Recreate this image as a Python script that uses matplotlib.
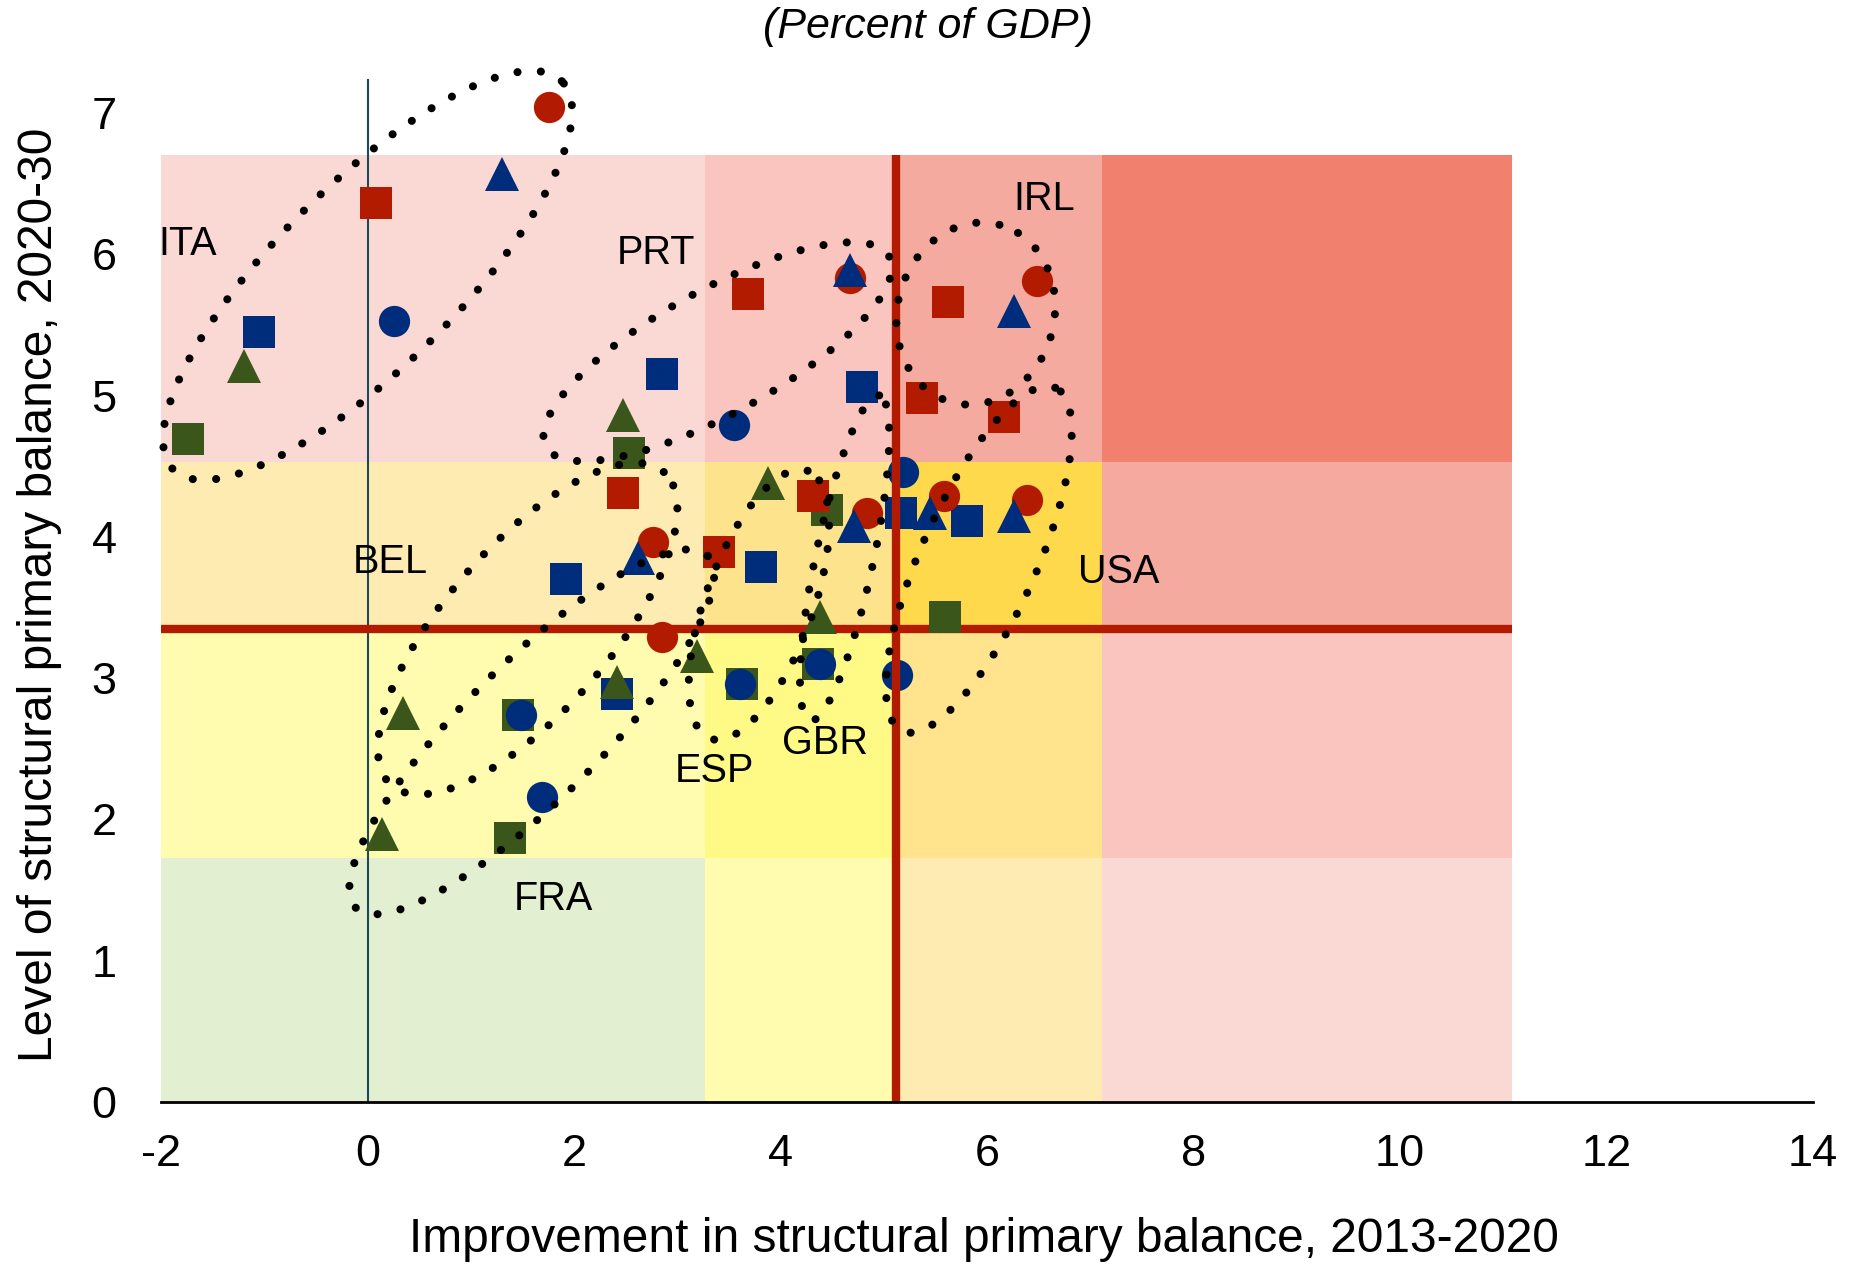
import numpy as np
import matplotlib
matplotlib.use("Agg")
import matplotlib.pyplot as plt
from matplotlib.patches import Rectangle

plt.rcParams["font.family"] = ["Liberation Sans", "DejaVu Sans"]
plt.rcParams["axes.unicode_minus"] = False

RED = "#b31b00"
BLUE = "#002d7b"
GREEN = "#3b561b"

# x = improvement in structural primary balance 2013-2020, y = level 2020-30
red_circle_x = [1.76, 4.67, 6.48, 5.58, 6.39, 4.84, 2.76, 2.85]
red_circle_y = [7.04, 5.83, 5.81, 4.29, 4.26, 4.17, 3.96, 3.29]
red_square_x = [0.08, 3.68, 5.62, 5.37, 6.16, 2.47, 4.31, 3.40]
red_square_y = [6.36, 5.72, 5.66, 4.98, 4.85, 4.31, 4.29, 3.89]
blue_circle_x = [0.26, 3.55, 5.19, 1.49, 3.61, 4.38, 5.13, 1.69]
blue_circle_y = [5.53, 4.79, 4.46, 2.74, 2.96, 3.10, 3.02, 2.16]
blue_tri_x = [1.30, 4.67, 6.26, 2.62, 4.71, 5.45, 6.26]
blue_tri_y = [6.57, 5.89, 5.60, 3.85, 4.08, 4.17, 4.15]
blue_square_x = [-1.05, 2.85, 4.79, 1.92, 3.81, 5.17, 5.81, 2.42]
blue_square_y = [5.45, 5.15, 5.06, 3.70, 3.79, 4.17, 4.11, 2.89]
green_tri_x = [-1.20, 2.47, 3.88, 4.38, 2.42, 3.19, 0.34, 0.14]
green_tri_y = [5.21, 4.86, 4.38, 3.43, 2.97, 3.16, 2.75, 1.90]
green_square_x = [-1.74, 2.53, 4.45, 5.59, 1.46, 3.63, 4.36, 1.38]
green_square_y = [4.69, 4.59, 4.19, 3.43, 2.74, 2.96, 3.10, 1.87]

countries = ["ITA", "PRT", "IRL", "BEL", "USA", "ESP", "GBR", "FRA"]
label_x = [-1.74, 2.79, 6.55, 0.22, 7.27, 3.36, 4.43, 1.80]
label_y = [6.07, 6.01, 6.39, 3.82, 3.75, 2.34, 2.54, 1.44]

# country groupings: centre x, centre y, half-length, half-width (x units), tilt
groups = {
    "ITA": (0.00, 5.85, 2.66, 0.88, 45),
    "PRT": (3.39, 5.31, 1.90, 0.60, 29),
    "IRL": (5.89, 5.58, 0.89, 0.76, 75),
    "USA": (5.92, 3.84, 1.82, 0.56, 66),
    "BEL": (1.55, 3.35, 2.01, 0.80, 49),
    "ESP": (3.79, 3.52, 1.38, 0.52, 70),
    "GBR": (4.62, 3.85, 1.61, 0.28, 78),
    "FRA": (1.59, 2.62, 2.41, 0.66, 45),
}

# risk zones
zone_x = [-2, 3.27, 5.10, 7.11, 11.08]
zone_y = [0, 1.73, 3.35, 4.53, 6.70]
zone_colors = [
    ["#e2efd1", "#fffbaf", "#feebb2", "#fad9d4"],
    ["#fffbaf", "#fffa85", "#ffe38d", "#f9c5be"],
    ["#feebb2", "#fee38d", "#ffd94c", "#f5aaa0"],
    ["#fad9d4", "#f9c5be", "#f5aaa0", "#f2806f"],
]
x_threshold = 5.12
y_threshold = 3.35

W, H = 18.6, 12.66
fig = plt.figure(figsize=(W, H), dpi=100)
ax_pos = [0.0866, 0.1295, 0.8882, 0.8371]
ax = fig.add_axes(ax_pos)
xmin, xmax, ymin, ymax = -2, 14, 0, 7.5
ax.set_xlim(xmin, xmax)
ax.set_ylim(ymin, ymax)

for i in range(4):
    for j in range(4):
        ax.add_patch(Rectangle((zone_x[j], zone_y[i]), zone_x[j + 1] - zone_x[j],
                               zone_y[i + 1] - zone_y[i], facecolor=zone_colors[i][j],
                               edgecolor="none", zorder=0.5))

ax.plot([0, 0], [0, 7.23], color="#1c4a5a", lw=1.5, zorder=1)
ax.plot([zone_x[0], zone_x[-1]], [y_threshold, y_threshold], color=RED, lw=6,
        solid_capstyle="butt", zorder=2)

ms = 22.5
series = [
    (green_square_x, green_square_y, "s", GREEN, ms),
    (red_square_x, red_square_y, "s", RED, ms),
    (blue_square_x, blue_square_y, "s", BLUE, ms),
    (red_circle_x, red_circle_y, "o", RED, ms),
    (blue_circle_x, blue_circle_y, "o", BLUE, ms),
    (green_tri_x, green_tri_y, "^", GREEN, ms + 2),
    (blue_tri_x, blue_tri_y, "^", BLUE, ms + 2),
]
for xs, ys, m, c, s in series:
    ax.plot(xs, ys, ls="none", marker=m, color=c, markersize=s,
            markeredgewidth=0, zorder=3, clip_on=False)

ax.plot([x_threshold, x_threshold], [0, zone_y[-1]], color=RED, lw=6,
        solid_capstyle="butt", zorder=4)

# dotted rings drawn in equal-pixel space
px_x = W * 100 * ax_pos[2] / (xmax - xmin)
px_y = H * 100 * ax_pos[3] / (ymax - ymin)
ky = px_y / px_x
t = np.linspace(0, 2 * np.pi, 500)
for name, (cx, cy, a, b, ang) in groups.items():
    th = np.radians(ang)
    u, v = a * np.cos(t), b * np.sin(t)
    ex = cx + u * np.cos(th) - v * np.sin(th)
    ey = cy + (u * np.sin(th) + v * np.cos(th)) / ky
    ax.plot(ex, ey, color="black", lw=5.8, linestyle=(0, (0.01, 2.9)),
            dash_capstyle="round", zorder=5, clip_on=False)

for name, lx, ly in zip(countries, label_x, label_y):
    ax.text(lx, ly, name, fontsize=28.5, ha="center", va="center", zorder=6)

for side in ["top", "right", "left"]:
    ax.spines[side].set_visible(False)
ax.spines["bottom"].set_linewidth(2)
ax.spines["bottom"].set_zorder(6)

ax.set_xticks(range(-2, 15, 2))
ax.set_yticks(range(0, 8))
ax.tick_params(axis="both", length=0, labelsize=32.5)
ax.tick_params(axis="x", pad=23)
ax.tick_params(axis="y", pad=32)

fig.text(0.4987, 0.979, "(Percent of GDP)", fontsize=31, style="italic",
         ha="center", va="center")
fig.text(0.529, 0.021, "Improvement in structural primary balance, 2013-2020",
         fontsize=34.5, ha="center", va="center")
fig.text(0.021, 0.53, "Level of structural primary balance, 2020-30",
         fontsize=34.5, ha="center", va="center", rotation=90)

fig.savefig("out.png", dpi=100)
